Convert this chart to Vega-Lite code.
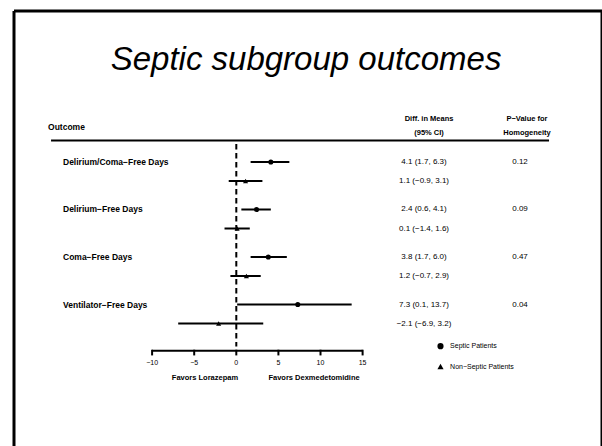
{
  "$schema": "https://vega.github.io/schema/vega-lite/v6.json",
  "width": 588,
  "height": 435,
  "autosize": {"type": "none"},
  "padding": {"left": 14, "top": 11, "right": 0, "bottom": 0},
  "background": "white",
  "config": {
    "view": {"stroke": null},
    "axis": {"disable": true},
    "text": {"font": "Liberation Sans", "color": "black"}
  },
  "data": {"values": [{}]},
  "datasets": {
    "outcomes": [
      {"outcome": "Delirium/Coma−Free Days", "group": "Septic Patients", "pos": 0, "est": 4.1, "lo": 1.7, "hi": 6.3, "ci": "4.1 (1.7, 6.3)", "p": "0.12"},
      {"outcome": "Delirium/Coma−Free Days", "group": "Non-Septic Patients", "pos": 1, "est": 1.1, "lo": -0.9, "hi": 3.1, "ci": "1.1 (−0.9, 3.1)", "p": null},
      {"outcome": "Delirium−Free Days", "group": "Septic Patients", "pos": 2.5, "est": 2.4, "lo": 0.6, "hi": 4.1, "ci": "2.4 (0.6, 4.1)", "p": "0.09"},
      {"outcome": "Delirium−Free Days", "group": "Non-Septic Patients", "pos": 3.5, "est": 0.1, "lo": -1.4, "hi": 1.6, "ci": "0.1 (−1.4, 1.6)", "p": null},
      {"outcome": "Coma−Free Days", "group": "Septic Patients", "pos": 5, "est": 3.8, "lo": 1.7, "hi": 6.0, "ci": "3.8 (1.7, 6.0)", "p": "0.47"},
      {"outcome": "Coma−Free Days", "group": "Non-Septic Patients", "pos": 6, "est": 1.2, "lo": -0.7, "hi": 2.9, "ci": "1.2 (−0.7, 2.9)", "p": null},
      {"outcome": "Ventilator−Free Days", "group": "Septic Patients", "pos": 7.5, "est": 7.3, "lo": 0.1, "hi": 13.7, "ci": "7.3 (0.1, 13.7)", "p": "0.04"},
      {"outcome": "Ventilator−Free Days", "group": "Non-Septic Patients", "pos": 8.5, "est": -2.1, "lo": -6.9, "hi": 3.2, "ci": "−2.1 (−6.9, 3.2)", "p": null}
    ],
    "ticks": [{"v": -10}, {"v": -5}, {"v": 0}, {"v": 5}, {"v": 10}, {"v": 15}]
  },
  "layer": [
    {
      "data": {"name": "outcomes"},
      "mark": {"type": "rule", "strokeWidth": 2, "color": "black"},
      "encoding": {
        "x": {"field": "lo", "type": "quantitative", "scale": {"domain": [-26.40, 43.43], "nice": false, "zero": false}},
        "x2": {"field": "hi"},
        "y": {"field": "pos", "type": "quantitative", "scale": {"domain": [-7.947, 14.947], "reverse": true, "nice": false, "zero": false}}
      }
    },
    {
      "mark": {"type": "rule", "strokeWidth": 3, "color": "black"},
      "encoding": {
        "x": {"datum": -26.40, "type": "quantitative"},
        "x2": {"datum": 43.43},
        "y": {"datum": -7.947, "type": "quantitative"}
      }
    },
    {
      "mark": {"type": "rule", "strokeWidth": 3, "color": "black"},
      "encoding": {
        "x": {"datum": -26.40, "type": "quantitative"},
        "y": {"datum": -7.947, "type": "quantitative"},
        "y2": {"datum": 14.947}
      }
    },
    {
      "mark": {"type": "rule", "strokeWidth": 3, "color": "black"},
      "encoding": {
        "x": {"datum": 43.43, "type": "quantitative"},
        "y": {"datum": -7.947, "type": "quantitative"},
        "y2": {"datum": 14.947}
      }
    },
    {
      "mark": {"type": "rule", "strokeWidth": 2, "color": "black", "strokeDash": [5.5, 3.5]},
      "encoding": {
        "x": {"datum": 0, "type": "quantitative"},
        "y": {"datum": -0.95, "type": "quantitative"},
        "y2": {"datum": 9.71}
      }
    },
    {
      "mark": {"type": "rule", "strokeWidth": 2, "color": "black"},
      "encoding": {
        "x": {"datum": -22.0, "type": "quantitative"},
        "x2": {"datum": 37.14},
        "y": {"datum": -1.13, "type": "quantitative"}
      }
    },
    {
      "mark": {"type": "rule", "strokeWidth": 2, "color": "black"},
      "encoding": {
        "x": {"datum": -10, "type": "quantitative"},
        "x2": {"datum": 15},
        "y": {"datum": 9.93, "type": "quantitative"}
      }
    },
    {
      "data": {"name": "ticks"},
      "mark": {"type": "rule", "strokeWidth": 2, "color": "black"},
      "encoding": {
        "x": {"field": "v", "type": "quantitative"},
        "y": {"datum": 9.88, "type": "quantitative"},
        "y2": {"datum": 10.18}
      }
    },
    {
      "data": {"name": "ticks"},
      "mark": {"type": "text", "fontSize": 7, "align": "center", "baseline": "middle"},
      "encoding": {
        "x": {"field": "v", "type": "quantitative"},
        "y": {"datum": 10.58, "type": "quantitative"},
        "text": {"field": "v", "type": "quantitative", "format": "d"}
      }
    },
    {
      "mark": {"type": "text", "text": "Favors Lorazepam", "fontSize": 7.5, "fontWeight": "bold", "align": "center", "baseline": "middle"},
      "encoding": {
        "x": {"datum": -3.72, "type": "quantitative"},
        "y": {"datum": 11.37, "type": "quantitative"}
      }
    },
    {
      "mark": {"type": "text", "text": "Favors Dexmedetomidine", "fontSize": 7.5, "fontWeight": "bold", "align": "center", "baseline": "middle"},
      "encoding": {
        "x": {"datum": 9.23, "type": "quantitative"},
        "y": {"datum": 11.37, "type": "quantitative"}
      }
    },
    {
      "mark": {"type": "text", "text": "Septic subgroup outcomes", "fontSize": 33, "fontStyle": "italic", "align": "center", "baseline": "middle"},
      "encoding": {
        "x": {"datum": 8.28, "type": "quantitative"},
        "y": {"datum": -5.37, "type": "quantitative"}
      }
    },
    {
      "mark": {"type": "text", "text": "Outcome", "fontSize": 8.5, "fontWeight": "bold", "align": "left", "baseline": "middle"},
      "encoding": {
        "x": {"datum": -22.36, "type": "quantitative"},
        "y": {"datum": -1.84, "type": "quantitative"}
      }
    },
    {
      "mark": {"type": "text", "text": ["Diff. in Means", "(95% CI)"], "lineHeight": 14, "fontSize": 7.5, "fontWeight": "bold", "align": "center", "baseline": "middle"},
      "encoding": {
        "x": {"datum": 22.89, "type": "quantitative"},
        "y": {"datum": -2.26, "type": "quantitative"}
      }
    },
    {
      "mark": {"type": "text", "text": ["P−Value for", "Homogeneity"], "lineHeight": 14, "fontSize": 7.5, "fontWeight": "bold", "align": "center", "baseline": "middle"},
      "encoding": {
        "x": {"datum": 34.52, "type": "quantitative"},
        "y": {"datum": -2.26, "type": "quantitative"}
      }
    },
    {
      "data": {"name": "outcomes"},
      "transform": [{"filter": "isValid(datum.p)"}],
      "mark": {"type": "text", "fontSize": 8.5, "fontWeight": "bold", "align": "left", "baseline": "middle"},
      "encoding": {
        "x": {"datum": -20.58, "type": "quantitative"},
        "y": {"field": "pos", "type": "quantitative"},
        "text": {"field": "outcome"}
      }
    },
    {
      "data": {"name": "outcomes"},
      "mark": {"type": "text", "fontSize": 8, "align": "center", "baseline": "middle"},
      "encoding": {
        "x": {"datum": 22.29, "type": "quantitative"},
        "y": {"field": "pos", "type": "quantitative"},
        "text": {"field": "ci"}
      }
    },
    {
      "data": {"name": "outcomes"},
      "transform": [{"filter": "isValid(datum.p)"}],
      "mark": {"type": "text", "fontSize": 8, "align": "center", "baseline": "middle"},
      "encoding": {
        "x": {"datum": 33.69, "type": "quantitative"},
        "y": {"field": "pos", "type": "quantitative"},
        "text": {"field": "p"}
      }
    },
    {
      "data": {"name": "outcomes"},
      "mark": {"type": "point", "filled": true, "color": "black", "size": 26, "opacity": 1},
      "encoding": {
        "x": {"field": "est", "type": "quantitative"},
        "y": {"field": "pos", "type": "quantitative"},
        "shape": {
          "field": "group",
          "type": "nominal",
          "scale": {"domain": ["Septic Patients", "Non-Septic Patients"], "range": ["circle", "triangle-up"]},
          "legend": {
            "orient": "none",
            "legendX": 422.5,
            "legendY": 331.2,
            "title": null,
            "padding": 0,
            "symbolSize": 38,
            "symbolFillColor": "black",
            "symbolStrokeColor": "black",
            "symbolOpacity": 1,
            "labelFont": "Liberation Sans",
            "labelFontSize": 7,
            "labelColor": "black",
            "labelOffset": 5.6,
            "rowPadding": 7.3,
            "labelExpr": "replace(datum.label, '-', '−')"
          }
        }
      }
    }
  ]
}
